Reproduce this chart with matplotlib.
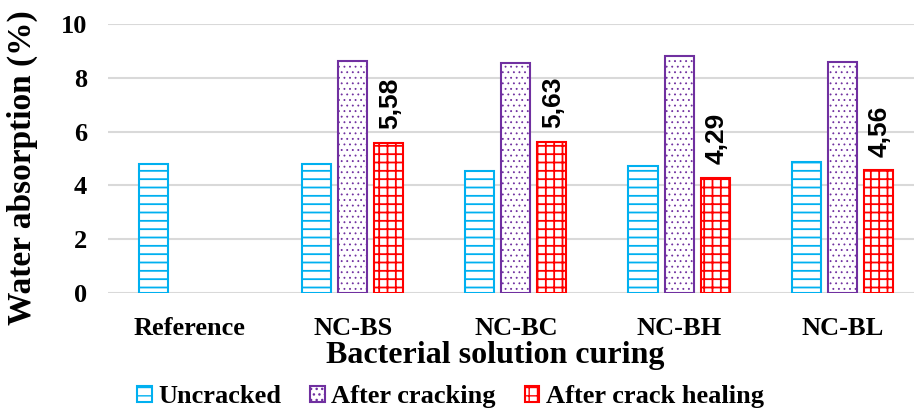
import numpy as np
import matplotlib.pyplot as plt
from matplotlib.patches import Patch

# water absorption (%) per curing solution
groups = ['Reference', 'NC-BS', 'NC-BC', 'NC-BH', 'NC-BL']
uncracked = [4.78, 4.81, 4.52, 4.73, 4.86]
after_cracking = [np.nan, 8.61, 8.55, 8.81, 8.59]
after_healing = [np.nan, 5.58, 5.63, 4.29, 4.56]
healing_labels = ['', '5,58', '5,63', '4,29', '4,56']

series_names = ['Uncracked', 'After cracking', 'After crack healing']
colors = ['#00B0F0', '#7030A0', '#FF0000']
hatches = ['--', '...', '++']
hatch_lw = [1.3, 0.6, 1.3]

serif = ['Liberation Serif', 'DejaVu Serif']

fig = plt.figure(figsize=(9.14, 4.13), dpi=100)
ax = fig.add_axes([108 / 914, 120 / 413, 1 - 108 / 914, 269 / 413])

x = np.arange(len(groups))
width = 0.178
step = 0.221

for i, vals in enumerate([uncracked, after_cracking, after_healing]):
    with plt.rc_context({'hatch.linewidth': hatch_lw[i]}):
        ax.bar(x + (i - 1) * step, vals, width, facecolor='white',
               edgecolor=colors[i], hatch=hatches[i], linewidth=1.5, zorder=3)

# value labels above the healed bars
for xi, v, lab in zip(x, after_healing, healing_labels):
    if lab:
        ax.text(xi + step + 0.01, v + 0.5, lab, rotation=90, ha='center', va='bottom',
                fontsize=19, fontweight='bold', family=['Liberation Sans', 'DejaVu Sans'])

ax.set_ylim(0, 10)
ax.set_xlim(-0.5, 4.44)
ax.set_yticks([0, 2, 4, 6, 8, 10])
ax.set_xticks(x)
ax.set_xticklabels(groups)
ax.grid(axis='y', color='#d9d9d9', linewidth=1.5, zorder=0)
ax.set_axisbelow(True)
for s in ax.spines.values():
    s.set_visible(False)
ax.tick_params(length=0, labelsize=19, pad=15)
ax.tick_params(axis='x', pad=17)
for lab in ax.get_xticklabels() + ax.get_yticklabels():
    lab.set_family(serif)
    lab.set_fontweight('bold')

ax.set_ylabel('Water absorption (%)', fontsize=24, fontweight='bold', family=serif)
ax.yaxis.set_label_coords(-0.087, 0.465)
ax.set_xlabel('Bacterial solution curing', fontsize=23, fontweight='bold', family=serif)
ax.xaxis.set_label_coords(0.481, -0.178)

handles = []
for c, h, lw in zip(colors, hatches, hatch_lw):
    with plt.rc_context({'hatch.linewidth': lw}):
        handles.append(Patch(facecolor='white', edgecolor=c, hatch=h, linewidth=1.5))
fig.legend(handles, series_names, loc='center', bbox_to_anchor=(0.493, 0.04),
           ncol=3, frameon=False, handlelength=0.55, handleheight=0.55,
           handletextpad=0.25, columnspacing=1.1,
           prop={'family': serif, 'weight': 'bold', 'size': 19})

fig.savefig('out.png', dpi=100)
